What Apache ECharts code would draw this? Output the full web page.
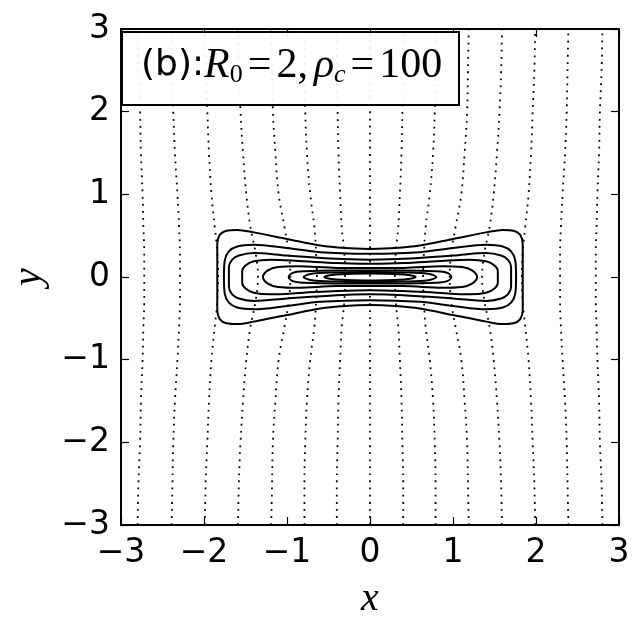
<!DOCTYPE html>
<html><head><meta charset="utf-8">
<script src="https://cdn.jsdelivr.net/npm/echarts@6/dist/echarts.min.js"></script>
<style>html,body{margin:0;padding:0;background:#fff}#c{width:641px;height:628px}</style>
</head><body><div id="c"></div>
<script>
// ---- data ----
const axisTicks = [-3, -2, -1, 0, 1, 2, 3];
const fieldY = [-3, -2.5, -2, -1.5, -1, -0.6, -0.3, 0, 0.3, 0.6, 1, 1.5, 2, 2.5, 3];
const fieldL7 = [-2.80, -2.79, -2.77, -2.76, -2.74, -2.73, -2.72, -2.72, -2.72, -2.73, -2.74, -2.76, -2.77, -2.79, -2.80];
const fieldL6 = [-2.39, -2.38, -2.37, -2.35, -2.32, -2.30, -2.29, -2.29, -2.29, -2.30, -2.32, -2.35, -2.37, -2.38, -2.39];
const fieldL5 = [-1.99, -1.98, -1.96, -1.94, -1.91, -1.87, -1.84, -1.83, -1.84, -1.87, -1.91, -1.94, -1.96, -1.98, -1.99];
const fieldL4 = [-1.59, -1.58, -1.56, -1.53, -1.49, -1.44, -1.38, -1.35, -1.38, -1.44, -1.49, -1.53, -1.56, -1.58, -1.59];
const fieldL3 = [-1.19, -1.18, -1.17, -1.14, -1.10, -1.03, -0.98, -0.96, -0.98, -1.03, -1.10, -1.14, -1.17, -1.18, -1.19];
const fieldL2 = [-0.79, -0.79, -0.78, -0.76, -0.72, -0.67, -0.65, -0.64, -0.65, -0.67, -0.72, -0.76, -0.78, -0.79, -0.79];
const fieldL1 = [-0.40, -0.40, -0.39, -0.38, -0.36, -0.34, -0.31, -0.30, -0.31, -0.34, -0.36, -0.38, -0.39, -0.40, -0.40];
const fieldC0 = [0, 0, 0, 0, 0, 0, 0, 0, 0, 0, 0, 0, 0, 0, 0];
const fieldR1 = [0.40, 0.40, 0.39, 0.38, 0.36, 0.34, 0.31, 0.30, 0.31, 0.34, 0.36, 0.38, 0.39, 0.40, 0.40];
const fieldR2 = [0.79, 0.79, 0.78, 0.76, 0.72, 0.67, 0.65, 0.64, 0.65, 0.67, 0.72, 0.76, 0.78, 0.79, 0.79];
const fieldR3 = [1.19, 1.18, 1.17, 1.14, 1.10, 1.03, 0.98, 0.96, 0.98, 1.03, 1.10, 1.14, 1.17, 1.18, 1.19];
const fieldR4 = [1.59, 1.58, 1.56, 1.53, 1.49, 1.44, 1.38, 1.35, 1.38, 1.44, 1.49, 1.53, 1.56, 1.58, 1.59];
const fieldR5 = [1.99, 1.98, 1.96, 1.94, 1.91, 1.87, 1.84, 1.83, 1.84, 1.87, 1.91, 1.94, 1.96, 1.98, 1.99];
const fieldR6 = [2.39, 2.38, 2.37, 2.35, 2.32, 2.30, 2.29, 2.29, 2.29, 2.30, 2.32, 2.35, 2.37, 2.38, 2.39];
const fieldR7 = [2.80, 2.79, 2.77, 2.76, 2.74, 2.73, 2.72, 2.72, 2.72, 2.73, 2.74, 2.76, 2.77, 2.79, 2.80];

const contour1 = [[0,0.34],[0.3,0.35],[0.6,0.38],[1.0,0.46],[1.4,0.54],[1.6,0.57],[1.73,0.56],[1.81,0.51],[1.84,0.40],[1.84,0.2],[1.84,0],[1.84,-0.2],[1.84,-0.40],[1.81,-0.51],[1.73,-0.56],[1.6,-0.57],[1.4,-0.54],[1.0,-0.46],[0.6,-0.38],[0.3,-0.35],[0,-0.34],[-0.3,-0.35],[-0.6,-0.38],[-1.0,-0.46],[-1.4,-0.54],[-1.6,-0.57],[-1.73,-0.56],[-1.81,-0.51],[-1.84,-0.40],[-1.84,-0.2],[-1.84,0],[-1.84,0.2],[-1.84,0.40],[-1.81,0.51],[-1.73,0.56],[-1.6,0.57],[-1.4,0.54],[-1.0,0.46],[-0.6,0.38],[-0.3,0.35],[0,0.34]];
const contour2 = [[0,0.28],[0.6,0.30],[1.0,0.35],[1.4,0.39],[1.6,0.37],[1.70,0.31],[1.75,0.2],[1.76,0],[1.75,-0.2],[1.70,-0.31],[1.6,-0.37],[1.4,-0.39],[1.0,-0.35],[0.6,-0.30],[0,-0.28],[-0.6,-0.30],[-1.0,-0.35],[-1.4,-0.39],[-1.6,-0.37],[-1.70,-0.31],[-1.75,-0.2],[-1.76,0],[-1.75,0.2],[-1.70,0.31],[-1.6,0.37],[-1.4,0.39],[-1.0,0.35],[-0.6,0.30],[0,0.28]];
const contour3 = [[0,0.21],[0.4,0.22],[1.0,0.26],[1.4,0.29],[1.58,0.26],[1.66,0.21],[1.70,0.12],[1.70,0],[1.70,-0.12],[1.66,-0.21],[1.58,-0.26],[1.4,-0.29],[1.0,-0.26],[0.4,-0.22],[0,-0.21],[-0.4,-0.22],[-1.0,-0.26],[-1.4,-0.29],[-1.58,-0.26],[-1.66,-0.21],[-1.70,-0.12],[-1.70,0],[-1.70,0.12],[-1.66,0.21],[-1.58,0.26],[-1.4,0.29],[-1.0,0.26],[-0.4,0.22],[0,0.21]];
const contour4 = [[0,0.16],[0.4,0.17],[0.8,0.19],[1.2,0.21],[1.4,0.19],[1.50,0.14],[1.54,0.07],[1.54,0],[1.54,-0.07],[1.50,-0.14],[1.4,-0.19],[1.2,-0.21],[0.8,-0.19],[0.4,-0.17],[0,-0.16],[-0.4,-0.17],[-0.8,-0.19],[-1.2,-0.21],[-1.4,-0.19],[-1.50,-0.14],[-1.54,-0.07],[-1.54,0],[-1.54,0.07],[-1.50,0.14],[-1.4,0.19],[-1.2,0.21],[-0.8,0.19],[-0.4,0.17],[0,0.16]];
const contour5 = [[0,0.11],[0.4,0.11],[0.87,0.13],[1.11,0.12],[1.23,0.08],[1.29,0],[1.23,-0.08],[1.11,-0.12],[0.87,-0.13],[0.4,-0.11],[0,-0.11],[-0.4,-0.11],[-0.87,-0.13],[-1.11,-0.12],[-1.23,-0.08],[-1.29,0],[-1.23,0.08],[-1.11,0.12],[-0.87,0.13],[-0.4,0.11],[0,0.11]];
const contour6 = [[0,0.08],[0.4,0.08],[0.79,0.07],[0.93,0.05],[0.98,0],[0.93,-0.05],[0.79,-0.07],[0.4,-0.08],[0,-0.08],[-0.4,-0.08],[-0.79,-0.07],[-0.93,-0.05],[-0.98,0],[-0.93,0.05],[-0.79,0.07],[-0.4,0.08],[0,0.08]];
const contour7 = [[0,0.06],[0.4,0.055],[0.70,0.04],[0.80,0],[0.70,-0.04],[0.4,-0.055],[0,-0.06],[-0.4,-0.055],[-0.70,-0.04],[-0.80,0],[-0.70,0.04],[-0.4,0.055],[0,0.06]];
const contour8 = [[0,0.042],[0.2,0.04],[0.46,0.025],[0.55,0],[0.46,-0.025],[0.2,-0.04],[0,-0.042],[-0.2,-0.04],[-0.46,-0.025],[-0.55,0],[-0.46,0.025],[-0.2,0.04],[0,0.042]];

// ---- build ----
const fieldLines = [fieldL7, fieldL6, fieldL5, fieldL4, fieldL3, fieldL2, fieldL1, fieldC0, fieldR1, fieldR2, fieldR3, fieldR4, fieldR5, fieldR6, fieldR7];
const contours = [contour1, contour2, contour3, contour4, contour5, contour6, contour7, contour8];

const series = [];
fieldLines.forEach((xs, i) => {
  series.push({
    type: 'line', name: 'field' + i, data: xs.map((x, j) => [x, fieldY[j]]),
    showSymbol: false, smooth: 0.4, silent: true,
    lineStyle: { color: '#000', width: 1.8, type: [1.8, 5.3], cap: 'butt' }, z: 2
  });
});
contours.forEach((pts, i) => {
  series.push({
    type: 'line', name: 'contour' + i, data: pts,
    showSymbol: false, smooth: 0.35, silent: true,
    lineStyle: { color: '#000', width: 2 }, z: 3
  });
});

const fmt = v => String(v).replace('-', '\u2212');
const tickFont = { fontFamily: 'DejaVu Sans', fontSize: 33, color: '#000' };
const baseAxis = {
  type: 'value', min: -3, max: 3, interval: 1,
  axisLine: { show: true, onZero: false, lineStyle: { color: '#000', width: 2 } },
  axisTick: { show: true, inside: true, length: 8, lineStyle: { color: '#000', width: 1.2 } },
  splitLine: { show: false }
};

const serif = 'Liberation Serif';
const chart = echarts.init(document.getElementById('c'), null, { renderer: 'canvas' });
chart.setOption({
  animation: false,
  backgroundColor: '#fff',
  grid: { left: 121, top: 29, width: 498, height: 496, containLabel: false, outerBoundsMode: 'none' },
  xAxis: [
    Object.assign({}, baseAxis, {
      position: 'bottom',
      axisLabel: Object.assign({ margin: 12, formatter: fmt }, tickFont),
      name: 'x', nameLocation: 'middle', nameGap: 54,
      nameTextStyle: { fontFamily: serif, fontStyle: 'italic', fontSize: 40, color: '#000' }
    }),
    Object.assign({}, baseAxis, { position: 'top', axisLabel: { show: false } })
  ],
  yAxis: [
    Object.assign({}, baseAxis, {
      position: 'left',
      axisLabel: Object.assign({ margin: 11, formatter: fmt }, tickFont),
      name: 'y', nameLocation: 'middle', nameGap: 72,
      nameTextStyle: { fontFamily: serif, fontStyle: 'italic', fontSize: 40, color: '#000' }
    }),
    Object.assign({}, baseAxis, { position: 'right', axisLabel: { show: false } })
  ],
  series: series,
  graphic: [
    {
      type: 'rect', z: 100,
      shape: { x: 122, y: 32, width: 337, height: 73 },
      style: { fill: 'rgba(255,255,255,0.92)', stroke: '#000', lineWidth: 2 }
    },
    {
      type: 'text', z: 101, left: 141, top: 45,
      style: {
        text: '{a|(b):}{i|R}{s|0}{e|=}{m|2,}{g|\u03c1}{si|c}{e|=}{m|100}',
        rich: {
          a: { fontFamily: 'DejaVu Sans', fontSize: 36, lineHeight: 44, fill: '#000' },
          i: { fontFamily: serif, fontStyle: 'italic', fontSize: 42, lineHeight: 44, fill: '#000' },
          g: { fontFamily: serif, fontStyle: 'italic', fontSize: 42, lineHeight: 44, fill: '#000', padding: [0, 0, 0, 6] },
          m: { fontFamily: serif, fontSize: 42, lineHeight: 44, fill: '#000' },
          e: { fontFamily: serif, fontSize: 42, lineHeight: 44, fill: '#000', padding: [0, 5, 0, 5] },
          s: { fontFamily: serif, fontSize: 26, lineHeight: 26, verticalAlign: 'bottom', fill: '#000' },
          si: { fontFamily: serif, fontStyle: 'italic', fontSize: 26, lineHeight: 26, verticalAlign: 'bottom', fill: '#000' }
        }
      }
    }
  ]
});
</script>
</body></html>
